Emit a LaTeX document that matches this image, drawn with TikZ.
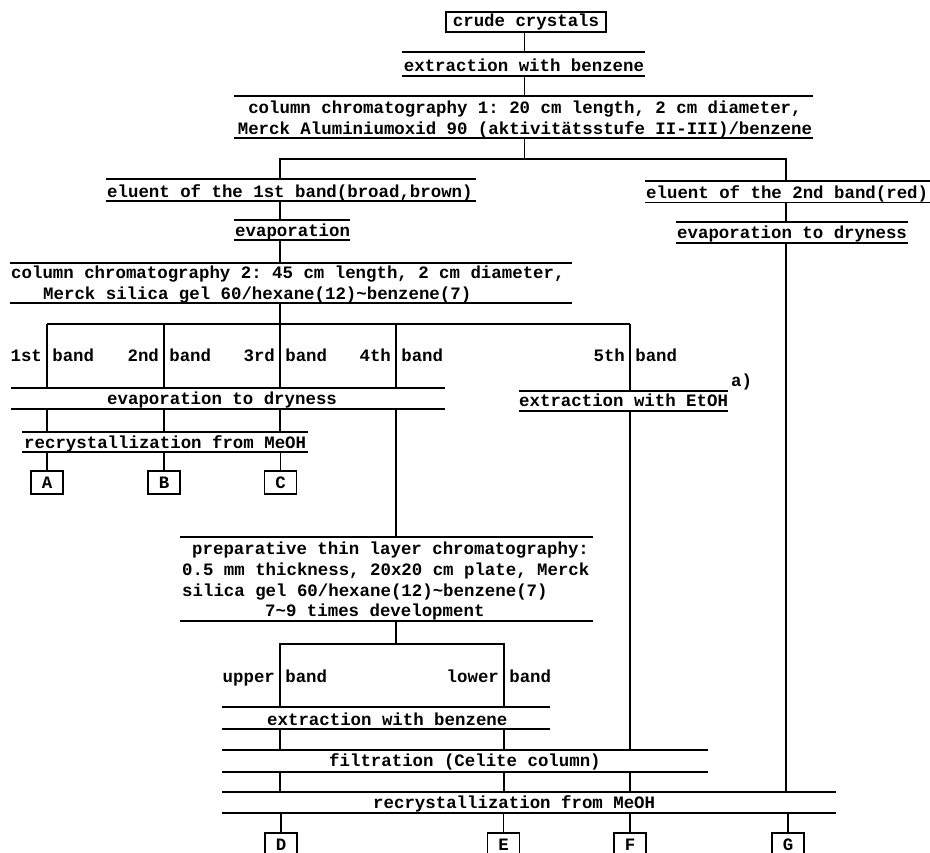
\documentclass[tikz,border=0pt]{standalone}
\usepackage{fontspec}
\setmonofont{Liberation Mono}
\usetikzlibrary{calc}
\tikzset{
  txt/.style={inner sep=0pt, anchor=base west, font=\ttfamily\bfseries\fontsize{17.4}{20}\selectfont},
  ctxt/.style={txt, anchor=base},
  holder/.style={rectangle, inner sep=0pt, outer sep=0pt, draw=none},
  rule/.style={line width=1.7pt},
  conn/.style={line width=1.3pt},
  prod/.style={draw, line width=1.4pt, inner sep=0pt, minimum width=32pt, minimum height=23pt,
    font=\ttfamily\bfseries\fontsize{17.4}{20}\selectfont},
}
\newcommand{\stepbar}[5]{%
  \node[holder, minimum width={(#4-#2)*1pt}, minimum height={(#5-#3)*1pt}, anchor=north west] (#1) at (#2,#3) {};
  \draw[rule] (#1.north west) -- (#1.north east) (#1.south west) -- (#1.south east);}
\begin{document}
\begin{tikzpicture}[x=1pt, y=-1pt]
\useasboundingbox (0,0) rectangle (930,853);
% x positions of connectors
\coordinate (xm) at (524.5,0);
\coordinate (x47) at (47,0);
\coordinate (x164) at (164,0);
\coordinate (x280) at (280,0);
\coordinate (x396) at (396,0);
\coordinate (x504) at (504,0);
\coordinate (x630) at (630,0);
\coordinate (x786) at (786,0);
\coordinate (j1) at (524.5,159);
\coordinate (j2) at (280,324);
\coordinate (j3) at (396,644);

% start box
\node[draw, line width=1.3pt, minimum width=160pt, minimum height=20pt, inner sep=0pt,
  font=\ttfamily\bfseries\fontsize{17.4}{20}\selectfont] (crude) at (526,22) {crude crystals};

% step bars
\stepbar{ext1}{402}{52}{645}{76}
\stepbar{cc1}{234}{96}{813}{138}
\stepbar{elu1}{106}{179}{476}{201}
\stepbar{elu2}{645}{181}{930}{202.5}
\stepbar{evap}{234}{220}{350}{240}
\stepbar{evapR}{676}{222}{908}{243}
\stepbar{cc2}{10}{263}{572}{303}
\stepbar{evapL}{11}{388}{445}{409}
\stepbar{etoh}{519}{391}{728}{411}
\stepbar{recL}{22}{432}{308}{452}
\stepbar{tlc}{180}{537}{593}{621}
\stepbar{ext2}{222}{707}{550}{729}
\stepbar{filt}{222}{750}{708}{772}
\stepbar{recB}{222}{792}{836}{813}

% texts
\node[ctxt] (t-ext1) at (524,72) {extraction with benzene};
\node[ctxt] (t-cc1a) at (525,114) {column chromatography 1: 20 cm length, 2 cm diameter,};
\node[ctxt] (t-cc1b) at (525,134.5) {Merck Aluminiumoxid 90 (aktivitätsstufe II-III)/benzene};
\node[txt] (t-elu1) at (107,197.5) {eluent of the 1st band(broad,brown)};
\node[txt] (t-elu2) at (646,199) {eluent of the 2nd band(red)};
\node[txt] (t-evap) at (235,236.5) {evaporation};
\node[txt] (t-evapR) at (677,239) {evaporation to dryness};
\node[txt] (t-cc2a) at (11,279) {column chromatography 2: 45 cm length, 2 cm diameter,};
\node[txt] (t-cc2b) at (43,299.5) {Merck silica gel 60/hexane(12)\textasciitilde benzene(7)};
\node[txt] (t-b1) at (10.4,362) {1st band};
\node[txt] (t-b2) at (127.4,362) {2nd band};
\node[txt] (t-b3) at (243.4,362) {3rd band};
\node[txt] (t-b4) at (359.4,362) {4th band};
\node[txt] (t-b5) at (593.4,362) {5th band};
\node[txt] (t-a) at (731,387) {a)};
\node[txt] (t-evapL) at (107,404.5) {evaporation to dryness};
\node[txt] (t-etoh) at (519,406.5) {extraction with EtOH};
\node[txt] (t-recL) at (24,448) {recrystallization from MeOH};
\node[txt] (t-tlc1) at (192,554) {preparative thin layer chromatography:};
\node[txt] (t-tlc2) at (182,575) {0.5 mm thickness, 20x20 cm plate, Merck};
\node[txt] (t-tlc3) at (182,596) {silica gel 60/hexane(12)\textasciitilde benzene(7)};
\node[txt] (t-tlc4) at (265,616) {7\textasciitilde 9 times development};
\node[txt] (t-up) at (222.5,682) {upper band};
\node[txt] (t-low) at (446.5,682) {lower band};
\node[txt] (t-ext2) at (267,725) {extraction with benzene};
\node[txt] (t-filt) at (329,766.5) {filtration (Celite column)};
\node[txt] (t-recB) at (373,808.5) {recrystallization from MeOH};

% products
\node[prod] (A) at (47,482.5) {A};
\node[prod] (B) at (164,482.5) {B};
\node[prod] (C) at (280.5,482.5) {C};
\node[prod] (D) at (281,844.5) {D};
\node[prod] (E) at (503.5,844.5) {E};
\node[prod] (F) at (630,844.5) {F};
\node[prod] (G) at (788,844.5) {G};

% connectors
\draw[conn] (crude.south -| xm) -- (ext1.north -| xm);
\draw[conn] (ext1.south -| xm) -- (cc1.north -| xm);
\draw[conn] (cc1.south -| j1) -- (j1);
\draw[conn] (elu1.north -| x280) |- (j1) -| (elu2.north -| x786);
\draw[conn] (elu1.south -| x280) -- (evap.north -| x280);
\draw[conn] (evap.south -| x280) -- (cc2.north -| x280);
\draw[conn] (elu2.south -| x786) -- (evapR.north -| x786);
\draw[conn] (evapR.south -| x786) -- (recB.north -| x786);
\draw[conn] (cc2.south -| j2) -- (j2);
\draw[conn] (j2 -| x47) -- (j2 -| x630);
\draw[conn] (j2 -| x47) -- (evapL.north -| x47);
\draw[conn] (j2 -| x164) -- (evapL.north -| x164);
\draw[conn] (j2 -| x280) -- (evapL.north -| x280);
\draw[conn] (j2 -| x396) -- (evapL.north -| x396);
\draw[conn] (j2 -| x630) -- (etoh.north -| x630);
\draw[conn] (evapL.south -| x47) -- (recL.north -| x47);
\draw[conn] (evapL.south -| x164) -- (recL.north -| x164);
\draw[conn] (evapL.south -| x280) -- (recL.north -| x280);
\draw[conn] (recL.south -| A) -- (A.north);
\draw[conn] (recL.south -| B) -- (B.north);
\draw[conn] (recL.south -| C) -- (C.north);
\draw[conn] (evapL.south -| x396) -- (tlc.north -| x396);
\draw[conn] (tlc.south -| j3) -- (j3);
\draw[conn] (ext2.north -| x280) |- (j3) -| (ext2.north -| x504);
\draw[conn] (ext2.south -| x280) -- (filt.north -| x280);
\draw[conn] (ext2.south -| x504) -- (filt.north -| x504);
\draw[conn] (etoh.south -| x630) -- (filt.north -| x630);
\draw[conn] (filt.south -| x280) -- (recB.north -| x280);
\draw[conn] (filt.south -| x504) -- (recB.north -| x504);
\draw[conn] (filt.south -| x630) -- (recB.north -| x630);
\draw[conn] (recB.south -| D) -- (D.north);
\draw[conn] (recB.south -| E) -- (E.north);
\draw[conn] (recB.south -| F) -- (F.north);
\draw[conn] (recB.south -| G) -- (G.north);
\end{tikzpicture}
\end{document}
